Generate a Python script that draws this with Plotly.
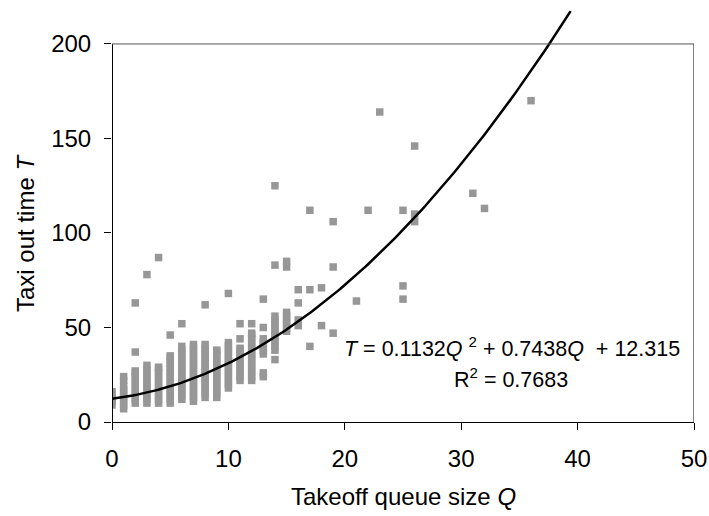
import numpy as np
import plotly.graph_objects as go

# Takeoff queue size observed for each stack of points
queue_levels = [0, 1, 2, 3, 4, 5, 6, 7, 8, 9, 10, 11, 12, 13, 14, 15, 16, 17, 18, 19,
                21, 22, 23, 25, 26, 31, 32, 36]

# Taxi-out times (minutes) recorded at each queue size above
taxi_by_queue = [
    [9, 11, 13, 15, 16],
    [7, 9, 11, 13, 15, 17, 19, 22, 24],
    [10, 12, 14, 16, 18, 20, 22, 24, 26, 27, 37, 63],
    [10, 12, 14, 16, 18, 20, 22, 24, 26, 28, 30, 78],
    [10, 12, 14, 16, 18, 20, 22, 24, 26, 28, 29, 87],
    [10, 12, 14, 16, 18, 20, 22, 24, 26, 28, 30, 32, 34, 35, 46],
    [12, 14, 16, 18, 20, 22, 24, 26, 28, 30, 32, 34, 36, 38, 40, 52],
    [11, 13, 15, 17, 19, 21, 23, 25, 27, 29, 31, 33, 35, 37, 39, 41],
    [13, 15, 17, 19, 21, 23, 25, 27, 29, 31, 33, 35, 37, 39, 41, 62],
    [13, 15, 17, 19, 21, 23, 25, 27, 29, 31, 33, 35, 37, 38],
    [18, 20, 22, 24, 26, 28, 30, 32, 34, 36, 38, 40, 42, 68],
    [22, 24, 26, 28, 30, 32, 34, 36, 38, 39, 44, 52],
    [22, 24, 26, 28, 30, 32, 34, 36, 38, 40, 42, 44, 46, 47, 52],
    [24, 26, 36, 38, 40, 42, 44, 50, 65],
    [33, 38, 40, 42, 44, 46, 48, 50, 52, 54, 56, 83, 125],
    [48, 50, 52, 54, 56, 58, 82, 85],
    [51, 54, 63, 70],
    [40, 70, 112],
    [51, 71],
    [47, 82, 106],
    [64],
    [112],
    [164],
    [65, 72, 112],
    [106, 110, 146],
    [121],
    [113],
    [170],
]

# Quadratic trend line fitted to the observations
trend_a = 0.1132
trend_b = 0.7438
trend_c = 12.315
r_squared = 0.7683
trend_q_max = 39.4

x_ticks = [0, 10, 20, 30, 40, 50]
y_ticks = [0, 50, 100, 150, 200]

queue_points = [q for q, times in zip(queue_levels, taxi_by_queue) for _ in times]
taxi_points = [t for times in taxi_by_queue for t in times]

q_line = np.linspace(0, trend_q_max, 200)
t_line = trend_a * q_line ** 2 + trend_b * q_line + trend_c

FONT = "Liberation Sans, Arial, sans-serif"

fig = go.Figure()
fig.add_trace(go.Scatter(
    x=queue_points, y=taxi_points, mode="markers",
    marker=dict(symbol="square", size=7.5, color="#979797", line=dict(width=0)),
    hoverinfo="skip",
))
fig.add_trace(go.Scatter(
    x=q_line, y=t_line, mode="lines",
    line=dict(color="black", width=2.5),
    hoverinfo="skip",
))

# Plot frame: left axis and the box top/right end at T = 200
fig.add_shape(type="line", xref="x", yref="y", x0=0, x1=0, y0=0, y1=200,
              line=dict(color="black", width=2))
fig.add_shape(type="line", xref="x", yref="y", x0=0, x1=50, y0=200, y1=200,
              line=dict(color="#555555", width=1))
fig.add_shape(type="line", xref="x", yref="y", x0=50, x1=50, y0=0, y1=200,
              line=dict(color="black", width=1))

eq_text = (f"<i>T</i>\u00a0= {trend_a}<i>Q</i>\u00a0<sup>2</sup> + {trend_b}<i>Q</i>"
           f"\u00a0\u00a0+ {trend_c}")
r2_text = f"R<sup>2</sup> = {r_squared}"

fig.add_annotation(x=34.4, y=39.5, xref="x", yref="y", text=eq_text, showarrow=False,
                   xanchor="center", yanchor="middle", font=dict(size=21.5))
fig.add_annotation(x=34.3, y=23.5, xref="x", yref="y", text=r2_text, showarrow=False,
                   xanchor="center", yanchor="middle", font=dict(size=21.5))

# Axis titles
fig.add_annotation(x=25, y=0, xref="x", yref="y", yshift=-74,
                   text="Takeoff queue size <i>Q</i>", showarrow=False,
                   xanchor="center", yanchor="middle", font=dict(size=24))
fig.add_annotation(x=0, y=100, xref="x", yref="y", xshift=-86,
                   text="Taxi out time <i>T</i>", showarrow=False, textangle=-90,
                   xanchor="center", yanchor="middle", font=dict(size=24))

fig.update_layout(
    width=709, height=516,
    margin=dict(l=112, r=13, t=2, b=94),
    plot_bgcolor="white", paper_bgcolor="white",
    showlegend=False,
    font=dict(family=FONT, size=24, color="black"),
)
fig.update_xaxes(
    range=[0, 50], tickvals=x_ticks, ticks="outside", ticklen=7, tickwidth=1,
    tickcolor="black", showline=True, linecolor="black", linewidth=1,
    showgrid=False, zeroline=False, ticklabelstandoff=8,
    ticklabeloverflow="allow", tickfont=dict(size=24),
)
fig.update_yaxes(
    range=[0, 222.2], tickvals=y_ticks, ticks="outside", ticklen=7, tickwidth=1,
    tickcolor="black", showline=False, showgrid=False, zeroline=False,
    ticklabelstandoff=8, tickfont=dict(size=24),
)

fig.write_html("out.html")
